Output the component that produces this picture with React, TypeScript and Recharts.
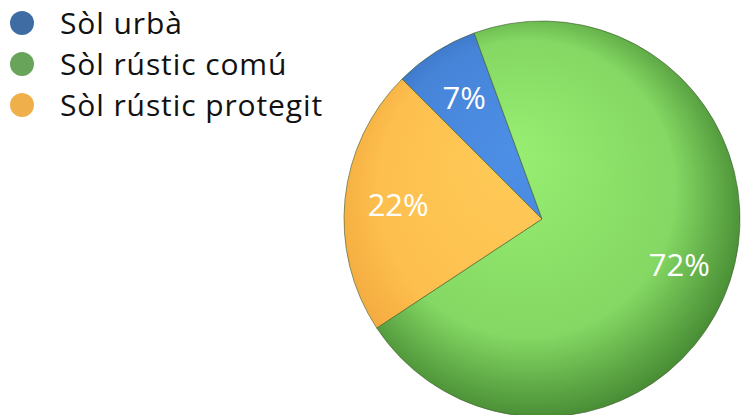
import { PieChart, Pie, Cell } from 'recharts';

const categories = ['Sòl urbà', 'Sòl rústic comú', 'Sòl rústic protegit'];
const shares = [7, 72, 22];
const legendColors = ['#3f6da3', '#68a55a', '#efb04c'];

const data = categories.map((name, i) => ({ name, value: shares[i] }));

const GRADS = [
  { id: 'gBlue', inner: '#4d8fe6', mid: '#4684d8', outer: '#3568b4' },
  { id: 'gGreen', inner: '#98ee72', mid: '#84d863', outer: '#4a8f36' },
  { id: 'gOrange', inner: '#ffcb58', mid: '#fdbf4e', outer: '#f2a73c' },
];

const RAD = Math.PI / 180;

const renderLabel = (props: any) => {
  const { cx, cy, midAngle, outerRadius, value } = props;
  const r = outerRadius * 0.73;
  const x = cx + r * Math.cos(-midAngle * RAD);
  const y = cy + r * Math.sin(-midAngle * RAD);
  return (
    <text
      x={x}
      y={y}
      fill="#ffffff"
      textAnchor="middle"
      dominantBaseline="central"
      fontFamily="'Open Sans', sans-serif"
      fontSize={31}
    >
      {value}%
    </text>
  );
};

export default function App() {
  return (
    <div style={{ position: 'absolute', left: 0, top: 0, width: 748, height: 415, background: '#fff', overflow: 'hidden' }}>
      <div style={{ position: 'absolute', left: 10, top: 2, fontFamily: "'Open Sans', sans-serif", zIndex: 1 }}>
        {categories.map((c, i) => (
          <div key={c} style={{ display: 'flex', alignItems: 'center', height: 41 }}>
            <span
              style={{
                width: 24,
                height: 24,
                borderRadius: '50%',
                background: legendColors[i],
                display: 'inline-block',
                marginRight: 26,
              }}
            />
            <span style={{ fontSize: 30, color: '#111', letterSpacing: 0.9 }}>{c}</span>
          </div>
        ))}
      </div>
      <PieChart width={748} height={415} margin={{ top: 0, right: 0, bottom: 0, left: 0 }}>
        <defs>
          {GRADS.map((g) => (
            <radialGradient key={g.id} id={g.id} cx="533" cy="205" r="212" fx="512" fy="150" gradientUnits="userSpaceOnUse">
              <stop offset="0%" stopColor={g.inner} />
              <stop offset="70%" stopColor={g.mid} />
              <stop offset="100%" stopColor={g.outer} />
            </radialGradient>
          ))}
        </defs>
        <Pie
          data={data}
          dataKey="value"
          nameKey="name"
          cx={542}
          cy={219}
          outerRadius={198}
          startAngle={135}
          endAngle={-225}
          stroke="#3d5a2e"
          strokeWidth={0.6}
          label={renderLabel}
          labelLine={false}
          isAnimationActive={false}
        >
          {data.map((d, i) => (
            <Cell key={d.name} fill={`url(#${GRADS[i].id})`} />
          ))}
        </Pie>
      </PieChart>
    </div>
  );
}
